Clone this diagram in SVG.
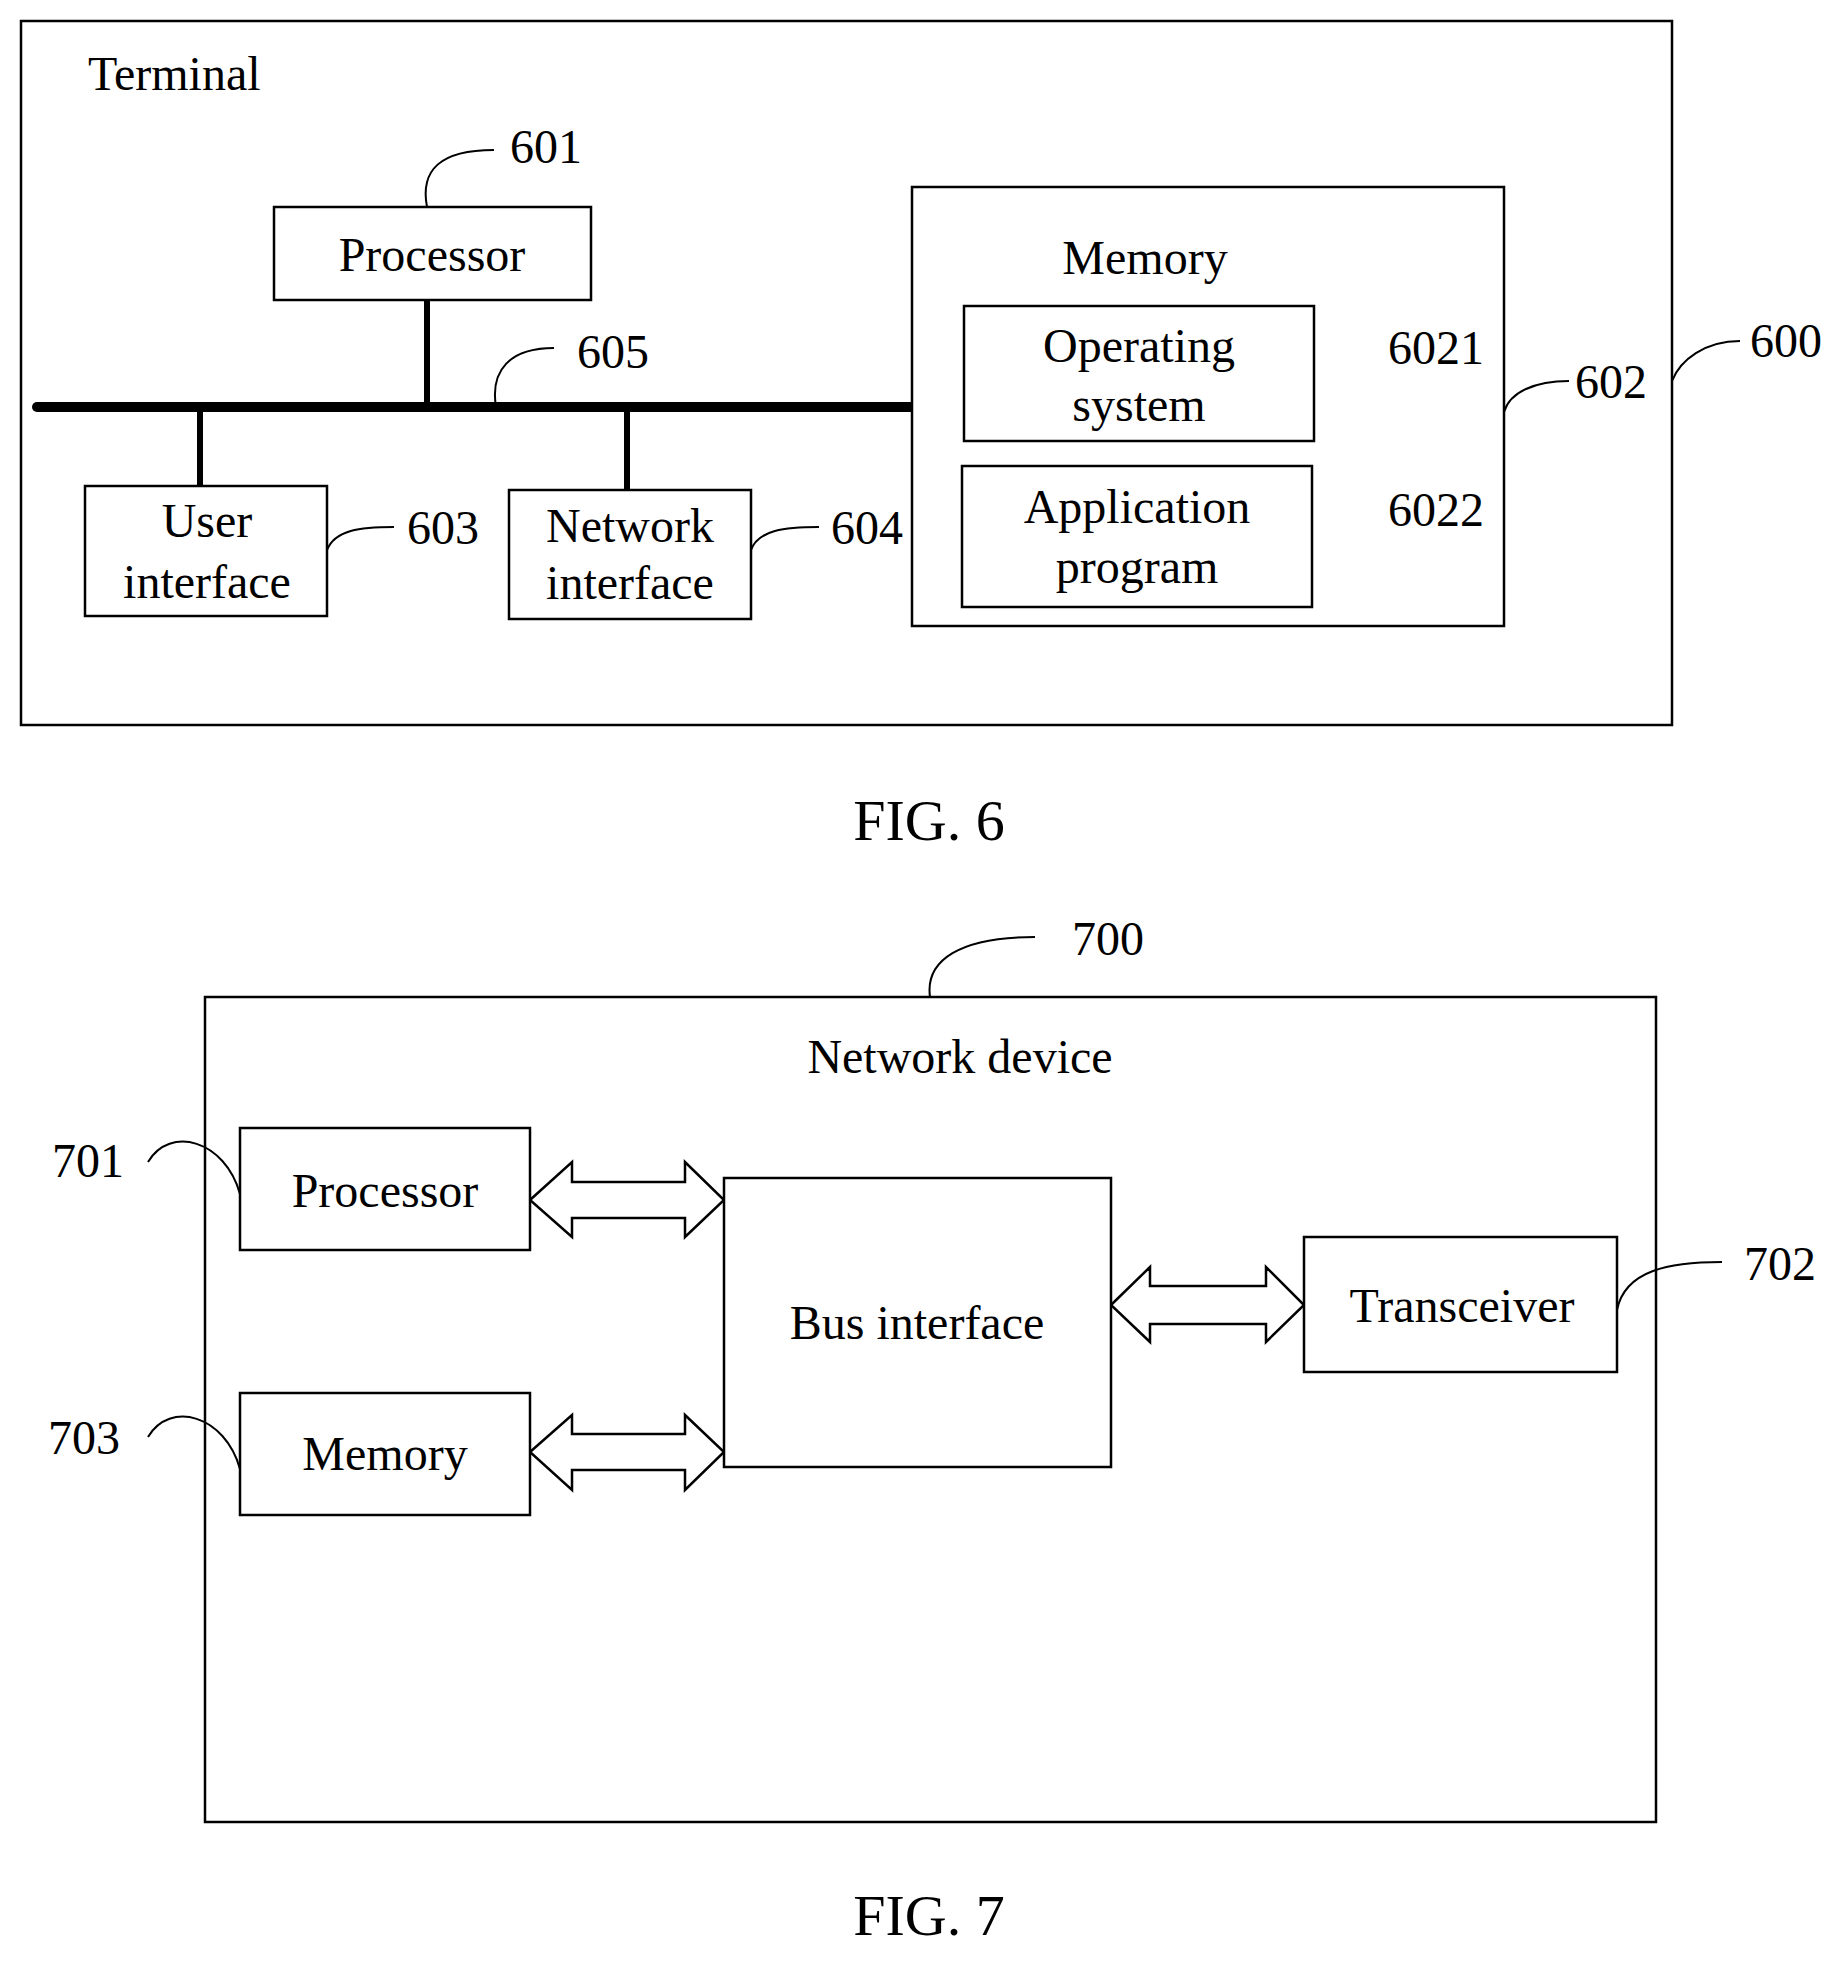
<svg xmlns="http://www.w3.org/2000/svg" width="1847" height="1964" viewBox="0 0 1847 1964">
<style>
.b{fill:#fff;stroke:#000;stroke-width:2.5}
.o{fill:none;stroke:#000;stroke-width:2.5}
.l{fill:none;stroke:#000;stroke-width:2}
.bus{stroke:#000;stroke-width:10;stroke-linecap:round}
.v{stroke:#000;stroke-width:6}
text{font-family:"Liberation Serif",serif;font-size:48px;fill:#000}
.c{text-anchor:middle}
.f{font-size:58px}
.a{fill:#fff;stroke:#000;stroke-width:2.5;stroke-linejoin:miter}
</style>
<rect width="1847" height="1964" fill="#fff"/>
<g id="terminal"><rect class="o" x="21" y="21" width="1651" height="704"/><text x="88" y="90">Terminal</text></g>
<g id="connectors6">
<line class="bus" x1="37" y1="407" x2="916" y2="407"/>
<line class="v" x1="427" y1="300" x2="427" y2="407"/>
<line class="v" x1="200" y1="407" x2="200" y2="486"/>
<line class="v" x1="627" y1="407" x2="627" y2="490"/>
<path class="l" d="M427,207 C420,170 440,150 494,150"/>
<path class="l" d="M496,407 C490,370 510,348 554,348"/>
<path class="l" d="M327,550 C335,530 360,527 394,527"/>
<path class="l" d="M751,550 C758,530 785,527 819,527"/>
<path class="l" d="M1314,375 C1320,355 1345,347 1381,347"/>
<path class="l" d="M1312,537 C1318,517 1345,509 1381,509"/>
<path class="l" d="M1504,412 C1510,392 1535,381 1569,381"/>
<path class="l" d="M1672,381 C1680,360 1705,341 1740,341"/>
</g>
<g id="processor6"><rect class="b" x="274" y="207" width="317" height="93"/><text class="c" x="432" y="271">Processor</text></g>
<text x="510" y="163">601</text>
<text x="577" y="368">605</text>
<g id="userif"><rect class="b" x="85" y="486" width="242" height="130"/><text class="c" x="207" y="537">User</text><text class="c" x="207" y="598">interface</text></g>
<text x="407" y="544">603</text>
<g id="netif"><rect class="b" x="509" y="490" width="242" height="129"/><text class="c" x="630" y="542">Network</text><text class="c" x="630" y="599">interface</text></g>
<text x="831" y="544">604</text>
<g id="memory6"><rect class="b" x="912" y="187" width="592" height="439"/><text class="c" x="1145" y="274">Memory</text></g>
<g id="os"><rect class="b" x="964" y="306" width="350" height="135"/><text class="c" x="1139" y="362">Operating</text><text class="c" x="1139" y="421">system</text></g>
<g id="app"><rect class="b" x="962" y="466" width="350" height="141"/><text class="c" x="1137" y="523">Application</text><text class="c" x="1137" y="583">program</text></g>
<text x="1388" y="364">6021</text>
<text x="1388" y="526">6022</text>
<text x="1575" y="398">602</text>
<text x="1750" y="357">600</text>
<text class="c f" x="929" y="840">FIG. 6</text>

<g id="netdev"><rect class="o" x="205" y="997" width="1451" height="825"/><text class="c" x="960" y="1073">Network device</text></g>
<g id="connectors7">
<path class="l" d="M930,997 C925,960 960,937 1035,937"/>
<path class="l" d="M148,1162 C170,1125 225,1140 240,1194"/>
<path class="l" d="M148,1437 C170,1400 225,1415 240,1469"/>
<path class="l" d="M1617,1310 C1625,1270 1670,1262 1722,1262"/>
<path class="a" d="M530,1200 L572,1162 L572,1182 L685,1182 L685,1162 L724,1200 L685,1237 L685,1218 L572,1218 L572,1237 Z"/>
<path class="a" d="M530,1452 L572,1415 L572,1434 L685,1434 L685,1415 L724,1452 L685,1490 L685,1470 L572,1470 L572,1490 Z"/>
<path class="a" d="M1111,1305 L1150,1267 L1150,1286 L1266,1286 L1266,1267 L1304,1305 L1266,1342 L1266,1324 L1150,1324 L1150,1342 Z"/>
</g>
<g id="processor7"><rect class="b" x="240" y="1128" width="290" height="122"/><text class="c" x="385" y="1207">Processor</text></g>
<g id="memory7"><rect class="b" x="240" y="1393" width="290" height="122"/><text class="c" x="385" y="1470">Memory</text></g>
<g id="busif"><rect class="b" x="724" y="1178" width="387" height="289"/><text class="c" x="917" y="1339">Bus interface</text></g>
<g id="transceiver"><rect class="b" x="1304" y="1237" width="313" height="135"/><text class="c" x="1462" y="1322">Transceiver</text></g>
<text x="1072" y="955">700</text>
<text x="52" y="1177">701</text>
<text x="48" y="1454">703</text>
<text x="1744" y="1280">702</text>
<text class="c f" x="929" y="1935">FIG. 7</text>
</svg>
